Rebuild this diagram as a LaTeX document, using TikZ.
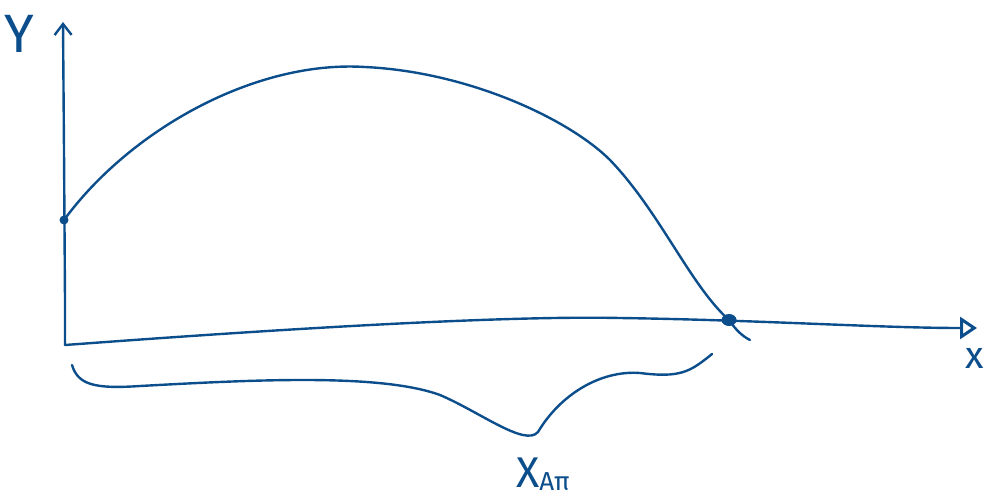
\documentclass[tikz,border=0pt]{standalone}
\usepackage{fontspec}
\setmainfont{Fira Sans}
\usetikzlibrary{arrows.meta}
\definecolor{ink}{RGB}{12,78,140}
\begin{document}
\begin{tikzpicture}[x=1pt,y=-1pt,
  pen/.style={draw=ink,line width=2.4pt,line cap=round,line join=round},
  lbl/.style={text=ink,inner sep=0pt}]
\useasboundingbox (0,0) rectangle (986,499);
\coordinate (O) at (65,345);
\coordinate (ytop) at (63,22);
\coordinate (xend) at (977,328);
\coordinate (P0) at (64,220);
\coordinate (P1) at (729,320);
% y axis
\draw[pen,-{Straight Barb[length=11pt,width=17pt]}] (O) -- (65,300) -- (64,150) -- (ytop);
% x axis
\draw[pen,-{Triangle[open,length=17pt,width=22pt,line width=3pt]}] (O) .. controls (200,335) and (480,315) .. (620,318) .. controls (760,320) and (880,328) .. (xend);
% curve
\draw[pen] (P0) .. controls (130,130) and (255,60) .. (365,67)
  .. controls (470,72) and (570,120) .. (610,160)
  .. controls (660,212) and (690,285) .. (P1)
  .. controls (736,330) and (742,336) .. (750,340);
\fill[ink] (P0) circle (4.5pt);
\fill[ink] (P1) ellipse (7.5pt and 6pt);
% brace
\draw[pen] (72,365) .. controls (78,385) and (95,389) .. (140,386)
  .. controls (250,380) and (380,373) .. (440,395)
  .. controls (480,412) and (525,447) .. (538,432)
  .. controls (560,395) and (600,370) .. (640,373)
  .. controls (680,378) and (690,372) .. (712,354);
% labels
\node[lbl,font=\fontsize{54}{54}\selectfont] (ly) at (19,34) {Y};
\node[lbl,font=\fontsize{38}{38}\selectfont] (lx) at (975,358) {x};
\node[lbl,anchor=base west] (lxa) at (516,487) {\fontsize{43}{43}\selectfont X\raisebox{-3pt}{\fontsize{26}{26}\selectfont Aπ}};
\end{tikzpicture}
\end{document}
